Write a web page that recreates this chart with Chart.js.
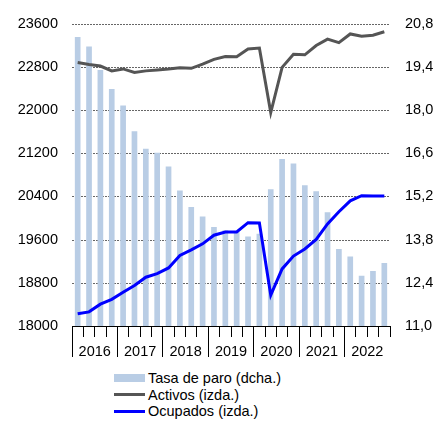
<!DOCTYPE html>
<html lang="es">
<head>
    <meta charset="UTF-8">
    <title>Activos, ocupados y tasa de paro</title>
    <script src="https://cdn.jsdelivr.net/npm/chart.js@4/dist/chart.umd.min.js"></script>
    <style>
        body { margin: 0; background: #fff; font-family: "Liberation Sans", Arial, sans-serif; }
        #wrap { position: relative; width: 439px; height: 362px; }
        canvas { display: block; }
        #legend { margin: 8px 0 0 114px; font-size: 14.5px; color: #000; }
        #legend .row { display: flex; align-items: center; height: 16.5px; }
        #legend .sw { width: 31px; margin-right: 3px; }
    </style>
</head>
<body>
<div id="wrap"><canvas id="chart"></canvas></div>
<div id="legend"></div>
<script>
    var years = ['2016', '2017', '2018', '2019', '2020', '2021', '2022'];
    var quarters = [];
    for (var y = 0; y < years.length; y++) {
        for (var q = 1; q <= 4; q++) {
            quarters.push(years[y] + 'T' + q);
        }
    }

    // tasa de paro, % (eje derecho)
    var tasaParo = [20.37, 20.06, 19.30, 18.68, 18.15, 17.31, 16.75, 16.62,
                    16.17, 15.39, 14.86, 14.55, 14.21, 14.10, 14.05, 13.90,
                    13.99, 15.43, 16.41, 16.27, 15.56, 15.37, 14.69, 13.50,
                    13.25, 12.63, 12.78, 13.04];
    // miles de personas (eje izquierdo)
    var activos = [22881, 22845, 22815, 22726, 22762, 22696, 22726, 22744,
                   22762, 22785, 22774, 22851, 22940, 22993, 22988, 23131,
                   23149, 21953, 22791, 23035, 23024, 23196, 23315, 23249,
                   23410, 23368, 23386, 23451];
    var ocupados = [18226, 18262, 18405, 18494, 18624, 18749, 18904, 18969,
                    19076, 19308, 19409, 19522, 19682, 19742, 19742, 19914,
                    19910, 18571, 19058, 19296, 19427, 19605, 19890, 20116,
                    20318, 20413, 20407, 20407];

    var leftTicks = [18000, 23600, 800];
    var rightTicks = [11.0, 20.8, 1.4];

    var colBar = '#b9cde5';
    var colAct = '#555555';
    var colOcu = '#0000ff';
    var colGrid = '#666666';
    var tickFont = { family: '"Liberation Sans", Arial, sans-serif', size: 14.5 };

    // lineas de rejilla punteadas en los ticks del eje izquierdo
    var dottedGrid = {
        id: 'dottedGrid',
        beforeDatasetsDraw: function (chart) {
            var sc = chart.scales.y;
            var area = chart.chartArea;
            var c = chart.ctx;
            c.save();
            c.strokeStyle = colGrid;
            c.lineWidth = 1;
            c.setLineDash([2, 1]);
            sc.ticks.forEach(function (t) {
                var py = Math.round(sc.getPixelForValue(t.value)) + 0.5;
                if (py > area.bottom - 1) return;
                c.beginPath();
                c.moveTo(area.left, py);
                c.lineTo(area.right, py);
                c.stroke();
            });
            c.restore();
        }
    };

    var ctx = document.getElementById('chart');
    var chart = new Chart(ctx, {
        type: 'bar',
        data: {
            labels: quarters,
            datasets: [{
                type: 'line',
                label: 'Ocupados (izda.)',
                data: ocupados,
                yAxisID: 'y',
                borderColor: colOcu,
                borderWidth: 3,
                pointRadius: 0,
                tension: 0,
                order: 1
            }, {
                type: 'line',
                label: 'Activos (izda.)',
                data: activos,
                yAxisID: 'y',
                borderColor: colAct,
                borderWidth: 3,
                pointRadius: 0,
                tension: 0,
                order: 2
            }, {
                label: 'Tasa de paro (dcha.)',
                data: tasaParo,
                yAxisID: 'y1',
                backgroundColor: colBar,
                barPercentage: 0.5,
                categoryPercentage: 1,
                order: 3
            }]
        },
        plugins: [dottedGrid],
        options: {
            responsive: true,
            maintainAspectRatio: false,
            animation: false,
            layout: { padding: { left: 0, right: 0, top: -4, bottom: 0 } },
            plugins: {
                legend: { display: false }
            },
            scales: {
                x: {
                    offset: true,
                    afterFit: function (s) { s.height = 36; },
                    grid: {
                        offset: true,
                        color: '#000',
                        drawOnChartArea: false,
                        tickLength: 31,
                        tickBorderDash: function (c) {
                            return c.index % 4 === 0 ? [] : [10, 100];
                        }
                    },
                    border: { display: true, color: '#000' },
                    ticks: {
                        font: tickFont,
                        color: '#000',
                        autoSkip: false,
                        maxRotation: 0,
                        minRotation: 0,
                        padding: -14,
                        labelOffset: 5.7,
                        callback: function (v, i) {
                            return i % 4 === 1 ? years[Math.floor(i / 4)] : '';
                        }
                    }
                },
                y: {
                    position: 'left',
                    min: leftTicks[0],
                    max: leftTicks[1],
                    afterFit: function (s) { s.width = 72; },
                    ticks: {
                        font: tickFont,
                        color: '#000',
                        stepSize: leftTicks[2],
                        padding: 14,
                        callback: function (v) { return String(v); }
                    },
                    grid: { drawOnChartArea: false, drawTicks: false },
                    border: { display: false }
                },
                y1: {
                    position: 'right',
                    min: rightTicks[0],
                    max: rightTicks[1],
                    afterFit: function (s) { s.width = 49; },
                    ticks: {
                        font: tickFont,
                        color: '#000',
                        stepSize: rightTicks[2],
                        padding: 15,
                        callback: function (v) { return v.toFixed(1).replace('.', ','); }
                    },
                    grid: { drawOnChartArea: false, drawTicks: false },
                    border: { display: false }
                }
            }
        }
    });

    // leyenda en html, una entrada por linea
    var legendItems = [
        { text: 'Tasa de paro (dcha.)', color: colBar, h: 8 },
        { text: 'Activos (izda.)', color: colAct, h: 3 },
        { text: 'Ocupados (izda.)', color: colOcu, h: 3 }
    ];
    var legend = document.getElementById('legend');
    legendItems.forEach(function (it) {
        var row = document.createElement('div');
        row.className = 'row';
        var sw = document.createElement('span');
        sw.className = 'sw';
        sw.style.height = it.h + 'px';
        sw.style.background = it.color;
        var tx = document.createElement('span');
        tx.textContent = it.text;
        row.appendChild(sw);
        row.appendChild(tx);
        legend.appendChild(row);
    });
</script>
</body>
</html>
